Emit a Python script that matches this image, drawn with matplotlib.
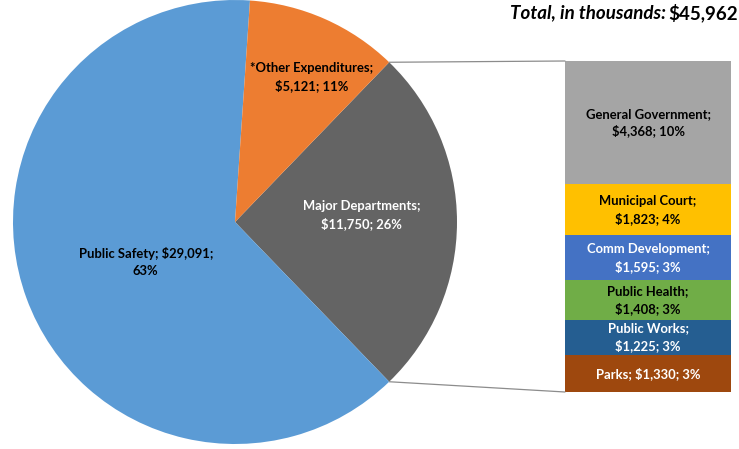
import numpy as np
import matplotlib.pyplot as plt
from matplotlib.patches import ConnectionPatch

plt.rcParams['font.family'] = ['Lato', 'DejaVu Sans']

# pie: main budget split (in thousands)
pie_names = ["Major Departments", "Public Safety", "*Other Expenditures"]
pie_values = [11750, 29091, 5121]
pie_colors = ["#646464", "#5B9BD5", "#ED7D31"]
pie_text_colors = ["white", "black", "black"]

# bar: breakdown of major departments, bottom to top
bar_names = ["Parks", "Public Works", "Public Health", "Comm Development",
             "Municipal Court", "General Government"]
bar_values = [1330, 1225, 1408, 1595, 1823, 4368]
bar_colors = ["#9E480E", "#255E91", "#70AD47", "#4472C4", "#FFC000", "#A5A5A5"]
bar_text_colors = ["white", "white", "black", "white", "black", "black"]

total = sum(pie_values)
FS = 9.4

def pct(v):
    return int(round(100.0 * v / total))

fig = plt.figure(figsize=(7.39, 4.49), dpi=100)

# pie
ax = fig.add_axes([13 / 739, 5 / 449, 444 / 739, 444 / 449])
start = 360.0 * pie_values[0] / total / 2
wedges, _ = ax.pie(pie_values, colors=pie_colors, startangle=start,
                   counterclock=False, radius=1.0,
                   wedgeprops=dict(linewidth=0))
ax.set_xlim(-1, 1)
ax.set_ylim(-1, 1)
ax.set_aspect("equal")

pie_labels = [
    f"{pie_names[0]};\n${pie_values[0]:,}; {pct(pie_values[0])}%",
    f"{pie_names[1]}; ${pie_values[1]:,};\n{pct(pie_values[1])}%",
    f"{pie_names[2]};\n${pie_values[2]:,}; {pct(pie_values[2])}%",
]
label_r = [0.57, 0.44, 0.74]
label_shift = [3, 4, -4]
for w, lab, r, sh, tc in zip(wedges, pie_labels, label_r, label_shift, pie_text_colors):
    a = np.deg2rad((w.theta1 + w.theta2) / 2 + sh)
    ax.text(r * np.cos(a), r * np.sin(a), lab, ha="center", va="center",
            fontsize=FS, fontweight="bold", color=tc, linespacing=1.45)

# stacked bar
bx = fig.add_axes([565 / 739, 57 / 449, 166 / 739, 331 / 449])
bottom = 0
for name, v, c, tc in zip(bar_names, bar_values, bar_colors, bar_text_colors):
    bx.bar(0, v, width=1.0, bottom=bottom, color=c, linewidth=0)
    if name == "Parks":
        lab = f"{name}; ${v:,}; {pct(v)}%"
    else:
        lab = f"{name};\n${v:,}; {pct(v)}%"
    bx.text(0, bottom + v / 2, lab, ha="center", va="center", fontsize=FS,
            fontweight="bold", color=tc, linespacing=1.45)
    bottom += v
bx.set_xlim(-0.5, 0.5)
bx.set_ylim(0, bottom)
bx.axis("off")

# connector lines from the major departments wedge to the bar
w = wedges[0]
for ang, yb in [(w.theta1, 0), (w.theta2, bottom)]:
    a = np.deg2rad(ang)
    cp = ConnectionPatch(xyA=(np.cos(a), np.sin(a)), coordsA=ax.transData,
                         xyB=(-0.5, yb), coordsB=bx.transData,
                         color="#8C8C8C", linewidth=0.9)
    fig.add_artist(cp)

fig.text(666 / 739, 1 - 13 / 449, "Total, in thousands:", ha="right", va="center",
         fontsize=13.5, fontweight="bold", fontstyle="italic")
fig.text(668 / 739, 1 - 13 / 449, f"${total:,}", ha="left", va="center",
         fontsize=13.5, fontweight="bold")

fig.savefig("out.png", dpi=100)
